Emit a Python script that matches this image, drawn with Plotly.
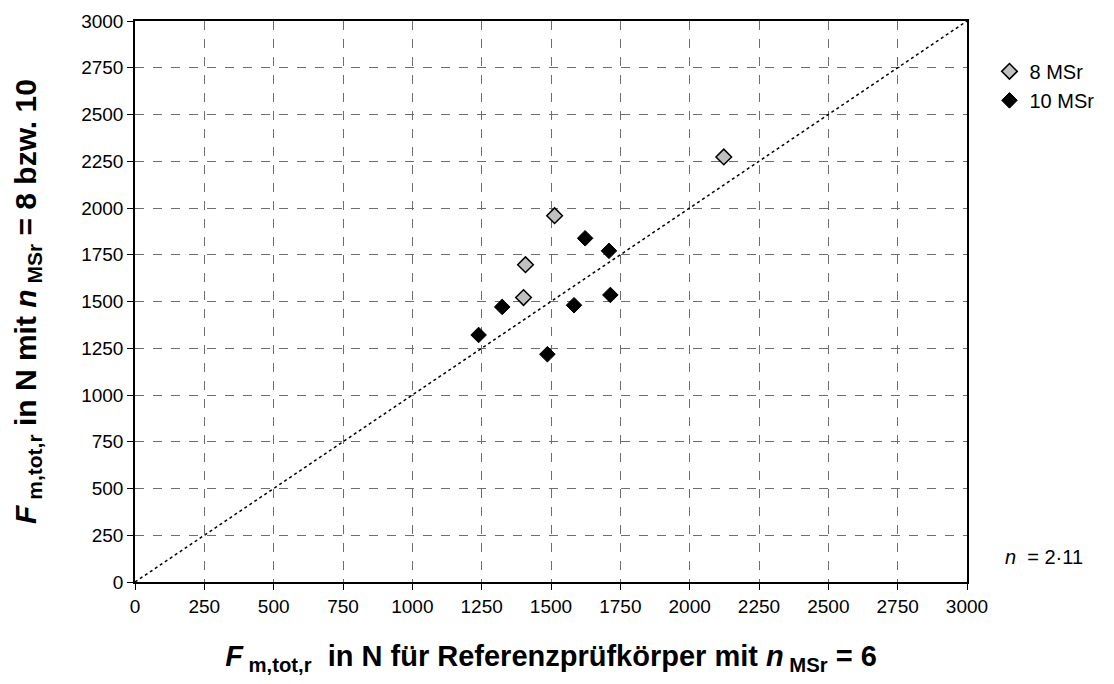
import plotly.graph_objects as go

x_8 = [1513, 1408, 1401, 2123]
y_8 = [1959, 1697, 1521, 2273]
x_10 = [1623, 1709, 1714, 1583, 1324, 1239, 1487]
y_10 = [1838, 1771, 1535, 1480, 1471, 1321, 1218]
diag = [0, 3000]
ticks = list(range(0, 3001, 250))

FONT = "Liberation Sans"

fig = go.Figure()
fig.add_trace(go.Scatter(x=diag, y=diag, mode="lines", showlegend=False,
                         line=dict(color="black", width=1.5, dash="dot"), hoverinfo="skip"))
fig.add_trace(go.Scatter(x=x_8, y=y_8, mode="markers", name="8 MSr",
                         marker=dict(symbol="diamond", size=12, color="#c0c0c0",
                                     line=dict(color="black", width=1.5))))
fig.add_trace(go.Scatter(x=x_10, y=y_10, mode="markers", name="10 MSr",
                         marker=dict(symbol="diamond", size=12, color="black",
                                     line=dict(color="black", width=1))))

axis_common = dict(range=[0, 3000], tickvals=ticks, ticks="outside", ticklen=6,
                   tickcolor="black", showline=True, linecolor="black", linewidth=1.5,
                   mirror=True, showgrid=True, gridcolor="#6e6e6e", griddash="dash",
                   gridwidth=1, zeroline=False, tickfont=dict(size=19, color="black", family=FONT))

fig.update_xaxes(**axis_common,
                 title=dict(text="<b><i>F</i></b><b><sub> m,tot,r</sub>  in N für Referenzprüfkörper mit <i>n</i><sub> MSr</sub> = 6</b>",
                            font=dict(size=29, color="black", family=FONT), standoff=30))
fig.update_yaxes(**axis_common,
                 title=dict(text="<b><i>F</i></b><b><sub> m,tot,r</sub> in N mit <i>n</i><sub> MSr</sub> = 8 bzw. 10</b>",
                            font=dict(size=30, color="black", family=FONT), standoff=36))

fig.add_annotation(x=1, y=0, xref="paper", yref="paper", xanchor="left", yanchor="middle",
                   xshift=36, yshift=25, showarrow=False,
                   text="<i>n</i>  = 2·11", font=dict(size=20, color="black", family=FONT))

fig.update_layout(
    width=1114, height=684,
    margin=dict(l=135, r=147, t=21, b=102),
    paper_bgcolor="white", plot_bgcolor="white",
    font=dict(family=FONT, color="black"),
    legend=dict(x=1.027, y=0.945, xanchor="left", yanchor="top",
                font=dict(size=20, color="black", family=FONT),
                itemwidth=30, tracegroupgap=0, bgcolor="rgba(0,0,0,0)"),
)

fig.write_html("out.html")
